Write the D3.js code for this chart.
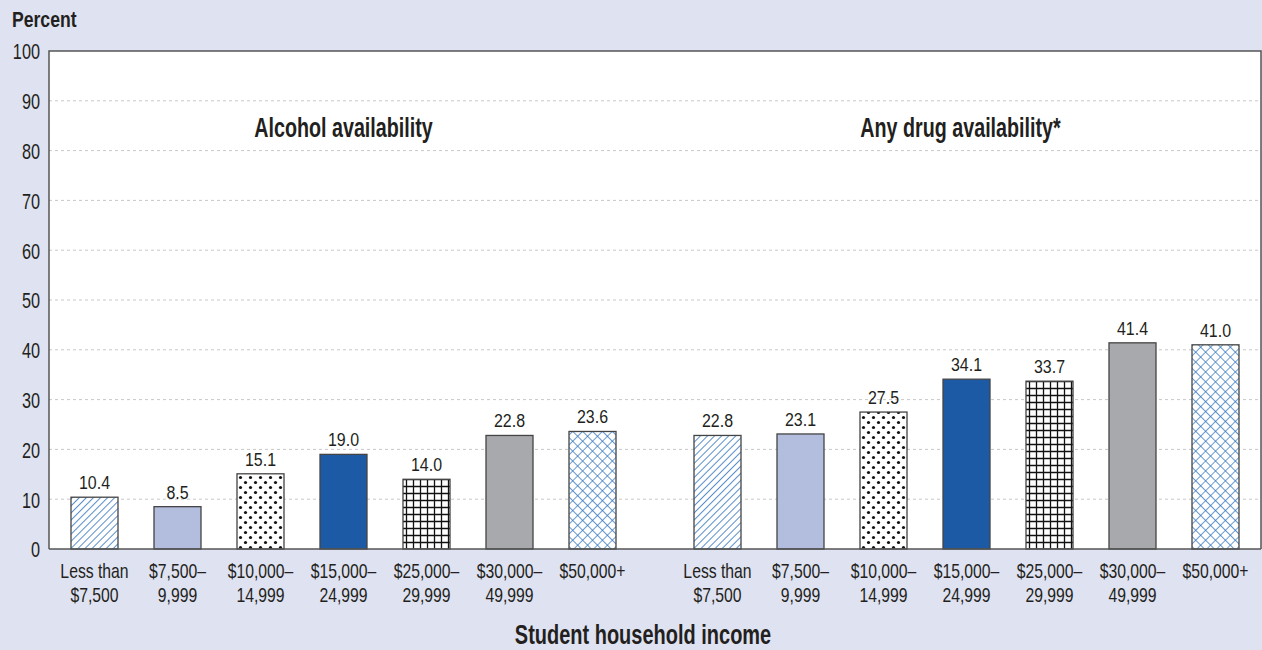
<!DOCTYPE html>
<html><head><meta charset="utf-8">
<script src="https://cdn.jsdelivr.net/npm/d3@7"></script>
<style>
html,body{margin:0;padding:0;background:#dfe2f0;}
svg{display:block;}
text{font-family:"Liberation Sans",Arial,sans-serif;fill:#231f20;}
</style></head><body>
<script>
const groups = ["Alcohol availability", "Any drug availability*"];
const categories = ["Less than|$7,500", "$7,500–|9,999", "$10,000–|14,999", "$15,000–|24,999", "$25,000–|29,999", "$30,000–|49,999", "$50,000+"];
const alcoholValues = [10.4, 8.5, 15.1, 19.0, 14.0, 22.8, 23.6];
const drugValues = [22.8, 23.1, 27.5, 34.1, 33.7, 41.4, 41.0];
const yTicks = [0, 10, 20, 30, 40, 50, 60, 70, 80, 90, 100];
const fills = ["url(#hatch)", "#b3bedf", "url(#dots)", "#1d5aa5", "url(#grid)", "#a8a9ad", "url(#cross)"];

const W = 1262, H = 650;
const svg = d3.select("body").append("svg").attr("width", W).attr("height", H);
svg.append("rect").attr("width", W).attr("height", H).attr("fill", "#dfe2f0");

// condensed text helper (horizontal squeeze)
function addText(parent, x, y, lines, size, sx, opts = {}) {
  const g = parent.append("g").attr("transform", `translate(${x},${y}) scale(${sx},1)`);
  const t = g.append("text").attr("text-anchor", opts.anchor || "middle")
    .style("font-size", size + "px").style("font-weight", opts.bold ? "bold" : "normal");
  if (opts.dy) t.attr("dy", opts.dy);
  lines.forEach((s, k) => t.append("tspan").attr("x", 0).attr("dy", k === 0 ? (opts.dy || 0) : (opts.lh || 24)).text(s));
  return g;
}

const defs = svg.append("defs");
let p = defs.append("pattern").attr("id", "hatch").attr("patternUnits", "userSpaceOnUse")
  .attr("width", 5).attr("height", 5).attr("patternTransform", "rotate(45)");
p.append("rect").attr("width", 5).attr("height", 5).attr("fill", "#fff");
p.append("line").attr("x1", 0).attr("y1", 0).attr("x2", 0).attr("y2", 5).attr("stroke", "#2f73bd").attr("stroke-width", 1.6);
p = defs.append("pattern").attr("id", "dots").attr("patternUnits", "userSpaceOnUse").attr("width", 10).attr("height", 10);
p.append("rect").attr("width", 10).attr("height", 10).attr("fill", "#fff");
p.append("circle").attr("cx", 2.5).attr("cy", 2.5).attr("r", 1.6).attr("fill", "#111");
p.append("circle").attr("cx", 7.5).attr("cy", 7.5).attr("r", 1.6).attr("fill", "#111");
p = defs.append("pattern").attr("id", "grid").attr("patternUnits", "userSpaceOnUse").attr("width", 7).attr("height", 7);
p.append("rect").attr("width", 7).attr("height", 7).attr("fill", "#fff");
p.append("path").attr("d", "M3.5,0V7M0,3.5H7").attr("stroke", "#111").attr("stroke-width", 1.3);
p = defs.append("pattern").attr("id", "cross").attr("patternUnits", "userSpaceOnUse")
  .attr("width", 7).attr("height", 7).attr("patternTransform", "rotate(45)");
p.append("rect").attr("width", 7).attr("height", 7).attr("fill", "#fff");
p.append("path").attr("d", "M0,0V7M0,0H7").attr("stroke", "#2f73bd").attr("stroke-width", 1.4);

const L = 49, R = 1261, T = 51, B = 549;
svg.append("rect").attr("x", L).attr("y", T).attr("width", R - L).attr("height", B - T).attr("fill", "#fff");

const y = d3.scaleLinear().domain([0, 100]).range([B, T]);
const xg = d3.scaleBand().domain(groups).range([53, 1257]).paddingInner(42 / 623).paddingOuter(0);
const xc = d3.scaleBand().domain(categories).range([0, xg.bandwidth()]).paddingInner(36 / 83).paddingOuter(18 / 83);

svg.append("g").selectAll("line").data(yTicks.filter(t => t > 0 && t < 100)).join("line")
  .attr("x1", L).attr("x2", R).attr("y1", d => y(d)).attr("y2", d => y(d))
  .attr("stroke", "#c8c8c8").attr("stroke-width", 1).attr("stroke-dasharray", "3,3");

// y axis tick labels via axis scale positions
const yAxis = d3.axisLeft(y).tickValues(yTicks).tickSize(0).tickPadding(9).tickFormat("");
const ya = svg.append("g").attr("transform", `translate(${L},0)`).call(yAxis);
ya.select(".domain").remove();
ya.selectAll(".tick").each(function (d) {
  addText(d3.select(this), -9, 0, [String(d)], 22, 0.74, { anchor: "end", dy: "0.36em" });
});

svg.append("path").attr("d", `M${L},${B}V${T}H${R}V${B}`).attr("fill", "none").attr("stroke", "#555").attr("stroke-width", 1.5);

const data = [alcoholValues, drugValues];
groups.forEach((g, gi) => {
  const gx = xg(g);
  const gg = svg.append("g").attr("transform", `translate(${gx},0)`);
  gg.selectAll("rect").data(data[gi]).join("rect")
    .attr("x", (d, i) => xc(categories[i])).attr("width", xc.bandwidth())
    .attr("y", d => y(d)).attr("height", d => y(0) - y(d))
    .attr("fill", (d, i) => fills[i]).attr("stroke", "#444").attr("stroke-width", 1.3);
  data[gi].forEach((v, i) => {
    addText(gg, xc(categories[i]) + xc.bandwidth() / 2, y(v) - 8, [v.toFixed(1)], 19, 0.84);
  });
  categories.forEach(c => {
    addText(gg, xc(c) + xc.bandwidth() / 2, 578, c.split("|"), 21, 0.75, { lh: 24 });
  });
  addText(svg, gx + xg.bandwidth() / 2 - (gi === 0 ? 0 : 6), 137, [g], 27, 0.73, { bold: true });
});

svg.append("line").attr("x1", L).attr("x2", R).attr("y1", B).attr("y2", B).attr("stroke", "#555").attr("stroke-width", 1.5);

addText(svg, 12, 27, ["Percent"], 22, 0.8, { bold: true, anchor: "start" });
addText(svg, 643, 644, ["Student household income"], 27, 0.74, { bold: true });
</script>
</body></html>
